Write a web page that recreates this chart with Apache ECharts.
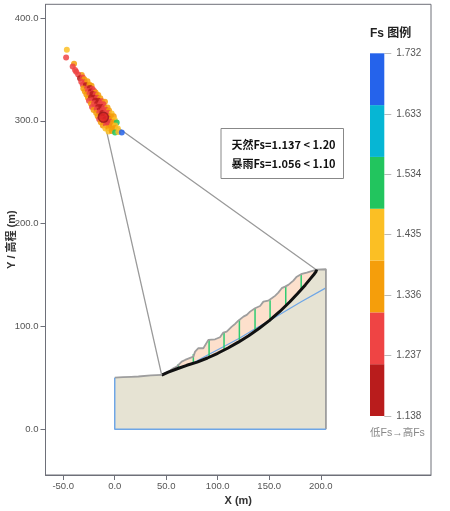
<!DOCTYPE html>
<html>
<head>
<meta charset="utf-8">
<script src="https://cdn.jsdelivr.net/npm/echarts@6/dist/echarts.min.js"></script>
<style>
html, body { margin: 0; padding: 0; background: #fff; }
#chart { width: 450px; height: 511px; }
</style>
</head>
<body>
<div id="chart"></div>
<script>
// axis ticks
var xTicks = [-50, 0, 50, 100, 150, 200];
var yTicks = [0, 100, 200, 300, 400];

// ground top surface, left column top to right edge (x, y in m)
var surfacePts = [[0,50.2],[8,50.6],[16,51],[23,51.3],[24,51.8],[35,52.3],[45.6,52.8],[47.2,53],[52,56],[56.9,59.3],
    [60.2,60.9],[65,65.8],[68.3,67.4],[76.3,70.6],[78,75.5],[81.2,78.8],[86,78.8],[90.9,86.9],[97.4,87.5],[102.2,89.5],
    [105.4,94],[108.7,94.9],[113.6,99.8],[116.8,102.4],[120,105.6],[124.9,109.5],[128.2,111.2],[131.4,114.4],[136.2,117.7],
    [141.1,119.9],[144.3,124.1],[149.1,125.1],[152.4,127.4],[155.6,129.7],[158.8,132.9],[162.1,137.2],[165.3,138.7],
    [168.5,140.4],[173.4,144.6],[176.7,148.4],[181.6,151.1],[186.4,152.3],[192.8,154.3],[196,155.3],[197.7,155.6],[205,155.6]];

// critical slip surface, toe to crest
var arcPts = [[45.6,52.6],[52,55.5],[60,58.6],[70,62.2],[80,65.3],[90,69.3],[100,73.9],[110,79],[120,84.7],[130,91],
    [140,98],[150,105.6],[160,114.3],[170,124],[178,132.5],[185,140.4],[190,146.5],[193.3,150.5],[195.2,153],[196,155.3]];

// layer boundary
var layerPts = [[58.5,58.7],[76,64.5],[91.6,73],[106,80.4],[121,88.5],[136,97.5],[154,108],[181,124],[205,137.5]];

// slices: x, top y, bottom y
var slices = [[61.7,63.5,59.1],[76.3,73.2,63.9],[91.6,86.9,70],[106.1,94.3,77],[121,106.6,85.3],
    [136.2,117.7,95.6],[150.8,125.5,105],[166,138.7,119.5],[181,150.8,134.9]];

// search grid of circle centres: x, y, Fs
var centrePts = [
    [-46.5,369,1.42],[-47.2,361.5,1.27],[-39.5,355.5,1.37],[-40.8,352.7,1.26],[-38.5,349.5,1.25],[-37.4,347.8,1.28],
    [-32,344.6,1.36],[-35.5,345,1.26],[-33.7,341.4,1.20],[-31,342,1.30],[-29.5,340.5,1.36],
    [-32.5,338,1.24],[-29,337.5,1.27],[-26.5,338.5,1.35],
    [-31,335,1.29],[-28,334.5,1.21],[-24.5,335,1.31],[-22.5,334,1.34],
    [-30.5,331.5,1.33],[-27,331.5,1.25],[-24,332,1.19],[-21.5,331,1.30],
    [-29,328.5,1.38],[-26,329,1.26],[-23,328.5,1.18],[-20,329,1.27],[-18.5,327.5,1.36],
    [-27.5,325.5,1.32],[-24.5,326,1.24],[-21.5,326,1.17],[-18.5,325.5,1.25],[-16,325,1.37],
    [-26,322.5,1.37],[-23,323,1.22],[-20,322.5,1.16],[-17,322.5,1.24],[-14,322,1.33],
    [-25,319.5,1.30],[-22,320,1.26],[-19,319.5,1.18],[-16,319.5,1.21],[-12.5,319,1.28],[-9.5,318.5,1.36],
    [-23,316.5,1.35],[-20,317,1.23],[-17,316.5,1.17],[-14,316.5,1.25],[-11,316,1.29],
    [-22,313.5,1.28],[-19,314,1.24],[-16,313.5,1.19],[-13,313.5,1.22],[-10,313,1.27],[-7,313,1.38],
    [-20.5,310.5,1.35],[-17.5,311,1.27],[-14.5,310.5,1.20],[-11.5,310.5,1.23],[-8.5,310.5,1.30],[-5.5,310,1.36],
    [-18,307.5,1.31],[-15,308,1.25],[-12,307.5,1.18],[-9,307.5,1.24],[-6,307.5,1.28],[-3,307,1.40],
    [-16.5,304.5,1.35],[-13.5,305,1.22],[-10,304.5,1.19],[-7,305,1.26],[-4,304.5,1.31],[-1,304.5,1.38],
    [-15,301.5,1.29],[-12,302,1.23],[-9,301.5,1.20],[-6,302,1.27],[-3,301.5,1.34],[0,301,1.40],
    [-13.5,298.5,1.37],[-10.5,299,1.25],[-7.5,298.5,1.22],[-4.5,299,1.30],[-1.5,298.5,1.36],[1.9,298.3,1.52],
    [-11.5,295.5,1.33],[-8.5,296,1.27],[-5.5,295.5,1.29],[-2.5,296,1.35],[0.5,295.5,1.45],
    [-9,292.5,1.40],[-6,293,1.31],[-3,292.5,1.34],[0,293,1.38],[3,292.5,1.46],
    [-6,289.5,1.43],[-3,290,1.37],[0.3,288.5,1.50],[3.5,289,1.45],[6.8,288.5,1.70]
];
var critCentre = [-11, 303.5];

// Fs legend
var fsTicks = [1.138, 1.237, 1.336, 1.435, 1.534, 1.633, 1.732];
var fsColors = ['#b91c1c', '#ef4444', '#f59e0b', '#fbbf24', '#22c55e', '#06b6d4', '#2563eb'];
var fsMin = 1.138, fsMax = 1.732;
var safetyText = ['天然Fs=1.137 < 1.20', '暴雨Fs=1.056 < 1.10'];

var chart = echarts.init(document.getElementById('chart'));

var groundPoly = [[0, 0]].concat(surfacePts, [[205, 0]]);
var toeX = arcPts[0][0], crestX = arcPts[arcPts.length - 1][0];
var slidePoly = surfacePts.filter(function (p) { return p[0] >= toeX && p[0] <= crestX; })
    .concat(arcPts.slice().reverse());

function polygonSeries(pts, fill, z) {
    return {
        type: 'custom',
        xAxisIndex: 0, yAxisIndex: 0,
        z: z,
        silent: true,
        data: [0],
        renderItem: function (params, api) {
            return {
                type: 'polygon',
                shape: { points: pts.map(function (p) { return api.coord(p); }) },
                style: { fill: fill }
            };
        }
    };
}

function lineSeries(pts, color, width, z) {
    return {
        type: 'line',
        xAxisIndex: 0, yAxisIndex: 0,
        z: z,
        silent: true,
        symbol: 'none',
        data: pts,
        lineStyle: { color: color, width: width }
    };
}

var pieces = [];
var step = (fsMax - fsMin) / fsColors.length;
for (var i = 0; i < fsColors.length; i++) {
    pieces.push({ gte: fsMin + i * step, lt: fsMin + (i + 1) * step + (i == fsColors.length - 1 ? 1 : 0), color: fsColors[i] });
}

var barSeries = fsColors.map(function (c) {
    return {
        type: 'bar',
        xAxisIndex: 1, yAxisIndex: 1,
        stack: 'cb',
        barWidth: '100%',
        silent: true,
        data: [1],
        itemStyle: { color: c }
    };
});

var option = {
    animation: false,
    textStyle: { fontFamily: 'Liberation Sans, Arial, "Noto Sans CJK SC", sans-serif' },
    grid: [
        { left: 45.5, top: 4.3, right: 19, bottom: 36, show: true, borderColor: '#6e7079', borderWidth: 1,
          containLabel: false, outerBoundsMode: 'none' },
        { left: 370, top: 53.3, width: 14.3, height: 362.7, containLabel: false, outerBoundsMode: 'none' }
    ],
    xAxis: [
        {
            type: 'value', gridIndex: 0, min: -67.2, max: 307,
            splitLine: { show: false },
            axisLine: { onZero: false, lineStyle: { color: '#6e7079' } },
            axisTick: { customValues: xTicks, length: 5, lineStyle: { color: '#6e7079' } },
            axisLabel: { customValues: xTicks, color: '#555', fontSize: 9.5, margin: 7,
                formatter: function (v) { return v.toFixed(1); } },
            name: 'X (m)', nameLocation: 'middle', nameGap: 20, nameMoveOverlap: false,
            nameTextStyle: { fontWeight: 'bold', fontSize: 11, color: '#333' }
        },
        { type: 'category', gridIndex: 1, data: [''], show: false }
    ],
    yAxis: [
        {
            type: 'value', gridIndex: 0, min: -44.5, max: 413.3,
            splitLine: { show: false },
            axisLine: { onZero: false, lineStyle: { color: '#6e7079' } },
            axisTick: { customValues: yTicks, length: 5, lineStyle: { color: '#6e7079' } },
            axisLabel: { customValues: yTicks, color: '#555', fontSize: 9.5, margin: 7,
                formatter: function (v) { return v.toFixed(1); } },
            name: 'Y / 高程 (m)', nameLocation: 'middle', nameGap: 28, nameMoveOverlap: false,
            nameTextStyle: { fontWeight: 'bold', fontSize: 11, color: '#333' }
        },
        { type: 'value', gridIndex: 1, min: 0, max: fsColors.length, show: false },
        {
            type: 'value', gridIndex: 1, min: fsMin, max: fsMax, position: 'right',
            splitLine: { show: false },
            axisLine: { show: false },
            axisTick: { show: true, customValues: fsTicks, length: 7, lineStyle: { color: '#bbb' } },
            axisLabel: { customValues: fsTicks, color: '#555', fontSize: 10, margin: 12,
                formatter: function (v) { return v.toFixed(3); } }
        }
    ],
    visualMap: {
        type: 'piecewise', show: false, dimension: 2, seriesIndex: 7,
        pieces: pieces
    },
    graphic: [
        { type: 'text', left: 370, top: 28, style: { text: 'Fs 图例', font: 'bold 12px "Liberation Sans", "Noto Sans CJK SC"', fill: '#222' } },
        { type: 'text', left: 370, top: 428, style: { text: '低Fs→高Fs', font: '10.5px "Liberation Sans", "Noto Sans CJK SC"', fill: '#888' } },
        { type: 'rect', shape: { x: 221, y: 128.5, width: 122.5, height: 50 }, style: { fill: '#fff', stroke: '#888', lineWidth: 1 }, z: 10 },
        { type: 'text', x: 231.5, y: 145, z: 11, style: { text: safetyText[0], verticalAlign: 'middle', font: 'bold 11px "Noto Sans CJK SC"', fill: '#111' } },
        { type: 'text', x: 231.5, y: 164, z: 11, style: { text: safetyText[1], verticalAlign: 'middle', font: 'bold 11px "Noto Sans CJK SC"', fill: '#111' } }
    ],
    series: [
        polygonSeries(groundPoly, '#e6e3d3', 1),
        polygonSeries(slidePoly, '#fde0cc', 2),
        lineSeries(layerPts, '#6ea6e6', 1.2, 3),
        {
            type: 'custom',
            xAxisIndex: 0, yAxisIndex: 0,
            z: 4,
            silent: true,
            data: slices,
            renderItem: function (params, api) {
                var a = api.coord([api.value(0), api.value(1)]);
                var b = api.coord([api.value(0), api.value(2)]);
                return { type: 'line', shape: { x1: a[0], y1: a[1], x2: b[0], y2: b[1] },
                    style: { stroke: '#2ecc71', lineWidth: 1.5 } };
            }
        },
        lineSeries(surfacePts.concat([[205, 0]]), '#9e9e9e', 1.8, 5),
        lineSeries([[205, 0], [0, 0], [0, 50.2]], '#6ea6e6', 1.5, 5),
        lineSeries(arcPts, '#111', 3, 6),
        {
            type: 'scatter',
            xAxisIndex: 0, yAxisIndex: 0,
            z: 8,
            symbolSize: 6,
            itemStyle: { opacity: 0.85 },
            data: centrePts
        },
        lineSeries([arcPts[0], critCentre, [195, 155.6]], '#9a9a9a', 1.3, 7),
        {
            type: 'scatter',
            xAxisIndex: 0, yAxisIndex: 0,
            z: 9,
            symbolSize: 10,
            itemStyle: { color: '#dc2626', borderColor: '#991b1b', borderWidth: 1.5 },
            data: [critCentre]
        }
    ].concat(barSeries)
};

chart.setOption(option);
</script>
</body>
</html>
